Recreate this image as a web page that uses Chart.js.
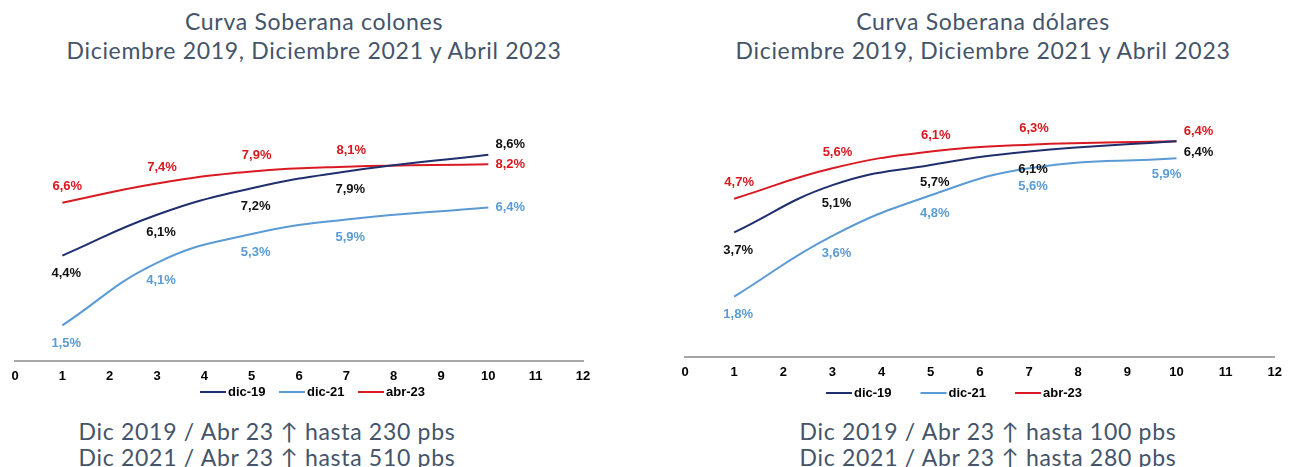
<!DOCTYPE html>
<html>
<head>
<meta charset="utf-8">
<script src="https://cdn.jsdelivr.net/npm/chart.js@4.4.0/dist/chart.umd.min.js"></script>
<style>
  body { margin: 0; background: #fff; width: 1289px; height: 467px; overflow: hidden; position: relative; }
  .txt { position: absolute; color: #44546A; font-family: Lato, "Open Sans", sans-serif; text-align: center; white-space: nowrap; letter-spacing: 0.7px; }
  .title { font-size: 23px; line-height: 29px; }
  .foot { font-size: 23px; line-height: 26px; }
  .box { position: absolute; top: 100px; height: 312px; }
</style>
</head>
<body>

<div class="txt title" style="left:14px; width:600px; top:7px;">Curva Soberana colones<br>Diciembre 2019, Diciembre 2021 y Abril 2023</div>
<div class="txt title" style="left:683px; width:600px; top:7px;">Curva Soberana dólares<br>Diciembre 2019, Diciembre 2021 y Abril 2023</div>

<div class="box" style="left:0px; width:625px;"><canvas id="chartColones"></canvas></div>
<div class="box" style="left:630px; width:659px;"><canvas id="chartDolares"></canvas></div>

<div class="txt foot" style="left:-33px; width:600px; top:418px;">Dic 2019 / Abr 23 ↑ hasta 230 pbs<br>Dic 2021 / Abr 23 ↑ hasta 510 pbs</div>
<div class="txt foot" style="left:688px; width:600px; top:418px;">Dic 2019 / Abr 23 ↑ hasta 100 pbs<br>Dic 2021 / Abr 23 ↑ hasta 280 pbs</div>

<script>
// plazos (años) with a label on the curve
const plazos = [1, 3, 5, 7, 10];
const seriesNames = ["dic-19", "dic-21", "abr-23"];

// colones curve, %
const colonesDic19 = [4.4, 6.1, 7.2, 7.9, 8.6];
const colonesDic21 = [1.5, 4.1, 5.3, 5.9, 6.4];
const colonesAbr23 = [6.6, 7.4, 7.9, 8.1, 8.2];

// dólares curve, %
const dolaresDic19 = [3.7, 5.1, 5.7, 6.1, 6.4];
const dolaresDic21 = [1.8, 3.6, 4.8, 5.6, 5.9];
const dolaresAbr23 = [4.7, 5.6, 6.1, 6.3, 6.4];

const lineColors = ["#1F2F6E", "#5B9BD5", "#DA1A22"];
const labelColors = ["#111111", "#5B9BD5", "#D7191F"];
const boldFont = "'Liberation Sans', Arial, sans-serif";

// where each value label sits relative to its point
const anchorOffsets = {
    below: [4, 18],
    above: [5, -16],
    right: [22, 0],
    aboveRight: [22, -10],
    belowRight: [22, 11],
    belowLeft: [-10, 16]
};

const valueLabels = {
    id: "valueLabels",
    afterDatasetsDraw(chart) {
        let ctx = chart.ctx;
        ctx.save();
        ctx.font = "bold 13px " + boldFont;
        ctx.textAlign = "center";
        ctx.textBaseline = "middle";
        chart.data.datasets.forEach(function (ds, i) {
            let meta = chart.getDatasetMeta(i);
            ctx.fillStyle = ds.labelColor;
            meta.data.forEach(function (pt, j) {
                let off = anchorOffsets[ds.anchors[j]];
                let text = ds.data[j].y.toFixed(1).replace(".", ",") + "%";
                ctx.fillText(text, pt.x + off[0], pt.y + off[1]);
            });
        });
        ctx.restore();
    }
};

// line legend under the axis, like the Excel one
const lineLegend = {
    id: "lineLegend",
    afterDraw(chart, args, opts) {
        let ctx = chart.ctx;
        ctx.save();
        ctx.font = "bold 13px " + boldFont;
        ctx.textBaseline = "middle";
        ctx.textAlign = "left";
        chart.data.datasets.forEach(function (ds, i) {
            let x = opts.left + i * opts.pitch;
            ctx.strokeStyle = ds.borderColor;
            ctx.lineWidth = 2;
            ctx.beginPath();
            ctx.moveTo(x, opts.top);
            ctx.lineTo(x + 26, opts.top);
            ctx.stroke();
            ctx.fillStyle = "#000";
            ctx.fillText(ds.label, x + 28, opts.top);
        });
        ctx.restore();
    }
};

function makeCurve(canvasId, values, anchors, yMax, pad, legendPos) {
    "use strict";

    let datasets = [];
    for (let i = 0; i < values.length; i++) {
        datasets.push({
            label: seriesNames[i],
            data: plazos.map(function (p, j) { return {x: p, y: values[i][j]}; }),
            borderColor: lineColors[i],
            backgroundColor: lineColors[i],
            borderWidth: 2,
            pointRadius: 0,
            fill: false,
            tension: 0.45,
            labelColor: labelColors[i],
            anchors: anchors[i]
        });
    }

    return new Chart(document.getElementById(canvasId), {
        type: "line",
        data: {datasets: datasets},
        options: {
            responsive: true,
            maintainAspectRatio: false,
            animation: false,
            layout: {padding: pad},
            plugins: {
                tooltip: {enabled: false},
                legend: {display: false},
                lineLegend: legendPos
            },
            scales: {
                x: {
                    type: "linear",
                    min: 0,
                    max: 12,
                    grid: {display: false, drawTicks: false},
                    border: {display: true, color: "#A6A6A6", width: 2},
                    ticks: {
                        stepSize: 1,
                        padding: 7,
                        color: "#000",
                        font: {family: boldFont, size: 13, weight: "bold"}
                    }
                },
                y: {display: false, min: 0, max: yMax}
            }
        },
        plugins: [valueLabels, lineLegend]
    });
}

makeCurve("chartColones",
    [colonesDic19, colonesDic21, colonesAbr23],
    [["below", "below", "below", "below", "aboveRight"],
     ["below", "below", "below", "below", "right"],
     ["above", "above", "above", "above", "right"]],
    10, {top: 21, left: 15, right: 42, bottom: 21},
    {left: 200, top: 292, pitch: 79});

makeCurve("chartDolares",
    [dolaresDic19, dolaresDic21, dolaresAbr23],
    [["below", "below", "below", "below", "belowRight"],
     ["below", "below", "below", "below", "belowLeft"],
     ["above", "above", "above", "above", "aboveRight"]],
    7, {top: 21, left: 55, right: 7, bottom: 25},
    {left: 196, top: 293, pitch: 94.5});
</script>
</body>
</html>
